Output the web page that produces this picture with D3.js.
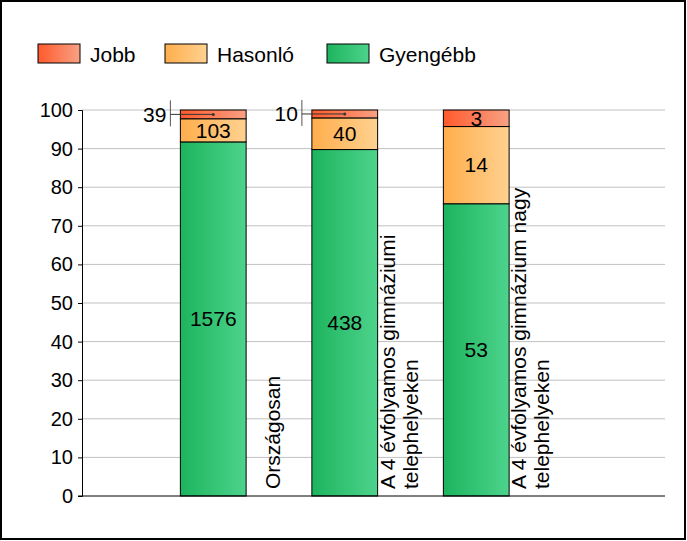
<!DOCTYPE html>
<html>
<head>
<meta charset="utf-8">
<script src="https://cdn.jsdelivr.net/npm/d3@7"></script>
<style>
  body { margin: 0; background: #fff; }
  svg text { font-family: "Liberation Sans", Arial, sans-serif; }
</style>
</head>
<body>
<script>
var w = 687;
var h = 541;

// data
var categories = ["Országosan", "A 4 évfolyamos gimnáziumi telephelyeken", "A 4 évfolyamos gimnázium nagy telephelyeken"];
var categoryLines = [["Országosan"], ["A 4 évfolyamos gimnáziumi", "telephelyeken"], ["A 4 évfolyamos gimnázium nagy", "telephelyeken"]];
var seriesNames = ["Jobb", "Hasonló", "Gyengébb"];
var gyengebb = [1576, 438, 53];
var hasonlo = [103, 40, 14];
var jobb = [39, 10, 3];
var yTicks = [0, 10, 20, 30, 40, 50, 60, 70, 80, 90, 100];

var colors = {
  "Jobb": ["#ff5a2c", "#f8a184"],
  "Hasonló": ["#ffae4c", "#ffd190"],
  "Gyengébb": ["#1db45e", "#4dd38c"]
};

var rows = categories.map(function(c, i) {
  var total = gyengebb[i] + hasonlo[i] + jobb[i];
  return {
    cat: c, i: i,
    "Gyengébb": gyengebb[i] / total * 100,
    "Hasonló": hasonlo[i] / total * 100,
    "Jobb": jobb[i] / total * 100,
    counts: { "Gyengébb": gyengebb[i], "Hasonló": hasonlo[i], "Jobb": jobb[i] }
  };
});

var svg = d3.select("body").append("svg")
  .attr("width", w)
  .attr("height", h);

var defs = svg.append("defs");
seriesNames.forEach(function(s, k) {
  var g = defs.append("linearGradient").attr("id", "grad" + k)
    .attr("x1", "0%").attr("x2", "100%").attr("y1", "0%").attr("y2", "0%");
  g.append("stop").attr("offset", "0%").attr("stop-color", colors[s][0]);
  g.append("stop").attr("offset", "100%").attr("stop-color", colors[s][1]);
});

// outer frame
svg.append("rect")
  .attr("x", 1).attr("y", 1)
  .attr("width", w - 3).attr("height", h - 3)
  .attr("fill", "none").attr("stroke", "#000").attr("stroke-width", 2);

var plotLeft = 82, plotRight = 665;
var y = d3.scaleLinear().domain([0, 100]).range([496, 110]);
var x = d3.scaleBand().domain(categories).range([147.5, 542])
  .paddingInner(0.5).paddingOuter(0.25);

// grid
svg.append("g").selectAll("line").data(yTicks.slice(1))
  .enter().append("line")
  .attr("x1", plotLeft).attr("x2", plotRight)
  .attr("y1", function(d) { return y(d); })
  .attr("y2", function(d) { return y(d); })
  .attr("stroke", "#c0c0c0").attr("stroke-width", 1);

// y axis
var yAxis = d3.axisLeft(y).tickValues(yTicks).tickSize(4).tickPadding(5);
var ya = svg.append("g").attr("transform", "translate(" + plotLeft + ",0)").call(yAxis);
ya.select(".domain").attr("stroke", "#000");
ya.selectAll("text").attr("font-size", "20px").attr("fill", "#000")
  .style("font-family", "Liberation Sans, Arial, sans-serif");
ya.selectAll("line").attr("stroke", "#000");

// stacked bars
var stack = d3.stack().keys(["Gyengébb", "Hasonló", "Jobb"]);
var stacked = stack(rows);

var layers = svg.append("g").selectAll("g").data(stacked)
  .enter().append("g")
  .attr("fill", function(d) { return "url(#grad" + seriesNames.indexOf(d.key) + ")"; });

layers.selectAll("rect").data(function(d) { return d; })
  .enter().append("rect")
  .attr("x", function(d) { return x(d.data.cat); })
  .attr("y", function(d) { return y(d[1]); })
  .attr("width", x.bandwidth())
  .attr("height", function(d) { return y(d[0]) - y(d[1]); })
  .attr("stroke", "#000").attr("stroke-width", 1);

// baseline
svg.append("line")
  .attr("x1", plotLeft - 4).attr("x2", plotRight)
  .attr("y1", y(0)).attr("y2", y(0))
  .attr("stroke", "#000").attr("stroke-width", 1);

// value labels
stacked.forEach(function(layer) {
  layer.forEach(function(d) {
    var val = d.data.counts[layer.key];
    var hgt = y(d[0]) - y(d[1]);
    var cx = x(d.data.cat) + x.bandwidth() / 2;
    var cy = (y(d[0]) + y(d[1])) / 2;
    if (hgt >= 14) {
      svg.append("text")
        .attr("x", cx).attr("y", cy)
        .attr("dy", "0.35em")
        .attr("text-anchor", "middle")
        .attr("font-size", "21px")
        .text(val);
    } else {
      // callout to the left of the bar
      var lx = x(d.data.cat) - 10;
      svg.append("line")
        .attr("x1", lx).attr("x2", lx)
        .attr("y1", cy - 14).attr("y2", cy + 12)
        .attr("stroke", "#555").attr("stroke-width", 1);
      svg.append("line")
        .attr("x1", lx).attr("x2", cx)
        .attr("y1", cy).attr("y2", cy)
        .attr("stroke", "#333").attr("stroke-width", 1);
      svg.append("circle")
        .attr("cx", cx).attr("cy", cy).attr("r", 1.5).attr("fill", "#333");
      svg.append("text")
        .attr("x", lx - 4).attr("y", cy)
        .attr("dy", "0.35em")
        .attr("text-anchor", "end")
        .attr("font-size", "21px")
        .text(val);
    }
  });
});

// category labels (rotated, to the right of each bar)
categories.forEach(function(c, i) {
  var lines = categoryLines[i];
  var bx = x(c) + x.bandwidth();
  lines.forEach(function(t, j) {
    var tx = bx + 10 + j * 23 + (lines.length === 1 ? 17 : 0);
    svg.append("text")
      .attr("transform", "translate(" + tx + ",489) rotate(-90)")
      .attr("text-anchor", "start")
      .attr("dy", "0.35em")
      .attr("font-size", "21px")
      .text(t);
  });
});

// legend
var legendX = [38, 165, 327];
var legend = svg.append("g").selectAll("g").data(seriesNames)
  .enter().append("g")
  .attr("transform", function(d, i) { return "translate(" + legendX[i] + ",44)"; });
legend.append("rect")
  .attr("width", 42).attr("height", 19)
  .attr("fill", function(d, i) { return "url(#grad" + i + ")"; })
  .attr("stroke", "#000").attr("stroke-width", 1);
legend.append("text")
  .attr("x", 52).attr("y", 17.5)
  .attr("font-size", "21px")
  .text(function(d) { return d; });
</script>
</body>
</html>
